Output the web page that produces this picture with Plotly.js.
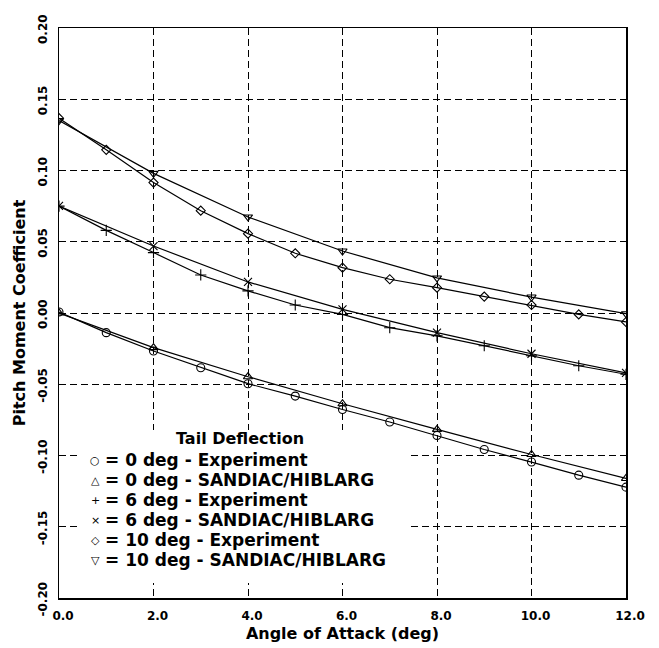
<!DOCTYPE html>
<html>
<head>
<meta charset="utf-8">
<script src="https://cdn.plot.ly/plotly-3.0.1.min.js"></script>
<style>html,body{margin:0;padding:0;background:#fff;}#chart{width:659px;height:648px;}</style>
</head>
<body>
<div id="chart"></div>
<script>
// Angle of attack (deg)
const alphaExp = [0,1,2,3,4,5,6,7,8,9,10,11,12];
const alphaSim = [0,2,4,6,8,10,12];

// Pitch moment coefficient
const cm0Exp  = [0.0007,-0.0138,-0.0267,-0.0384,-0.0496,-0.0583,-0.0677,-0.0765,-0.0859,-0.0958,-0.1046,-0.1138,-0.1222];
const cm0Sim  = [0.0000,-0.0243,-0.0447,-0.0637,-0.0817,-0.0993,-0.1161];
const cm6Exp  = [0.0750,0.0580,0.0424,0.0267,0.0155,0.0056,-0.0010,-0.0103,-0.0160,-0.0230,-0.0300,-0.0370,-0.0430];
const cm6Sim  = [0.0751,0.0470,0.0218,0.0026,-0.0138,-0.0286,-0.0420];
const cm10Exp = [0.1367,0.1145,0.0915,0.0718,0.0557,0.0419,0.0318,0.0237,0.0178,0.0115,0.0056,-0.0010,-0.0063];
const cm10Sim = [0.1350,0.0980,0.0674,0.0435,0.0246,0.0112,-0.0005];

const legendTitle = "Tail Deflection";
const seriesNames = [
  "= 0 deg - Experiment",
  "= 0 deg - SANDIAC/HIBLARG",
  "= 6 deg - Experiment",
  "= 6 deg - SANDIAC/HIBLARG",
  "= 10 deg - Experiment",
  "= 10 deg - SANDIAC/HIBLARG"
];
const legendGlyphs = ["\u25CB", "\u25B3", "+", "\u00D7", "\u25C7", "\u25BD"];

const xTickVals = [0,2,4,6,8,10,12];
const xTickText = ["0.0","2.0","4.0","6.0","8.0","10.0","12.0"];
const yTickVals = [-0.20,-0.15,-0.10,-0.05,0.00,0.05,0.10,0.15,0.20];
const yTickText = ["-0.20","-0.15","-0.10","-0.05","0.00","0.05","0.10","0.15","0.20"];

const TFONT = "'DejaVu Sans', sans-serif";

const series = [
  {x: alphaExp, y: cm0Exp,  sym: "circle-open",        size: 8},
  {x: alphaSim, y: cm0Sim,  sym: "triangle-up-open",   size: 8},
  {x: alphaExp, y: cm6Exp,  sym: "cross-thin-open",    size: 8},
  {x: alphaSim, y: cm6Sim,  sym: "x-thin-open",        size: 8},
  {x: alphaExp, y: cm10Exp, sym: "diamond-open",       size: 7},
  {x: alphaSim, y: cm10Sim, sym: "triangle-down-open", size: 8}
];

const traces = [];
series.forEach((s, i) => {
  traces.push({
    x: s.x, y: s.y, mode: "lines+markers", type: "scatter", name: seriesNames[i],
    line: {color: "#000", width: 1.2},
    marker: {symbol: s.sym, size: s.size, color: "#000", line: {color: "#000", width: 1.1}},
    showlegend: false
  });
});

// plot area in pixels: left 59, right 626, top 28, bottom 598
const PL = 59, PW = 567, PB = 598, PH = 570;
const px = v => (v - PL) / PW;
const py = v => (PB - v) / PH;

const annotations = [];
annotations.push({
  xref: "paper", yref: "paper", x: px(240), y: py(438), xanchor: "center", yanchor: "middle",
  text: legendTitle, showarrow: false,
  font: {family: TFONT, size: 16, color: "#000", weight: "bold"}
});
seriesNames.forEach((nm, i) => {
  const yc = 460 + 20 * i;
  annotations.push({
    xref: "paper", yref: "paper", x: px(95), y: py(yc), xanchor: "center", yanchor: "middle",
    text: legendGlyphs[i], showarrow: false,
    font: {family: TFONT, size: 11, color: "#000"}
  });
  annotations.push({
    xref: "paper", yref: "paper", x: px(103), y: py(yc), xanchor: "left", yanchor: "middle",
    text: nm, showarrow: false,
    font: {family: TFONT, size: 17, color: "#000", weight: "bold"}
  });
});

const layout = {
  width: 659, height: 648,
  margin: {l: 59, r: 33, t: 28, b: 50},
  paper_bgcolor: "#fff", plot_bgcolor: "#fff",
  font: {family: TFONT, color: "#000", size: 12},
  showlegend: false,
  shapes: [{
    type: "rect", xref: "paper", yref: "paper", layer: "above",
    x0: px(78), x1: px(408), y0: py(583), y1: py(430),
    fillcolor: "#fff", line: {width: 0}
  }],
  annotations: annotations,
  xaxis: {
    range: [0, 12],
    tickvals: xTickVals, ticktext: xTickText,
    showgrid: true, gridcolor: "#000", griddash: "7px,4px", gridwidth: 1,
    zeroline: false, showline: true, linecolor: "#000", linewidth: 1.5, mirror: true,
    ticks: "", ticklabelstandoff: 6, ticklabelshift: 4,
    tickfont: {family: TFONT, size: 12, weight: "bold"},
    title: {text: "Angle of Attack (deg)", font: {family: TFONT, size: 16, weight: "bold"}, standoff: 6}
  },
  yaxis: {
    range: [-0.20, 0.20],
    tickvals: yTickVals, ticktext: yTickText, tickangle: -90,
    showgrid: true, gridcolor: "#000", griddash: "7px,4px", gridwidth: 1,
    zeroline: false, showline: true, linecolor: "#000", linewidth: 1.5, mirror: true,
    ticks: "", ticklabelstandoff: 6, ticklabelshift: 3,
    tickfont: {family: TFONT, size: 12, weight: "bold"},
    title: {text: "Pitch Moment Coefficient", font: {family: TFONT, size: 16, weight: "bold"}, standoff: 6}
  }
};

Plotly.newPlot("chart", traces, layout, {displayModeBar: false, staticPlot: true});
</script>
</body>
</html>
